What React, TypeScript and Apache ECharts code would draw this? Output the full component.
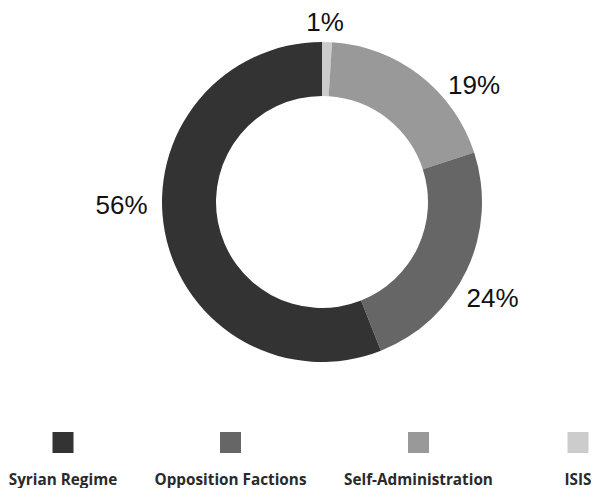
import React, { useEffect, useRef } from "react";
import * as echarts from "echarts";

// Data (clockwise from 12 o'clock)
const sliceNames = ["ISIS", "Self-Administration", "Opposition Factions", "Syrian Regime"];
const sliceValues = [1, 19, 24, 56];
const sliceColors = ["#cccccc", "#999999", "#666666", "#333333"];

// Legend order
const legendNames = ["Syrian Regime", "Opposition Factions", "Self-Administration", "ISIS"];

// Layout (not data)
const CX = 322;
const CY = 202;
const LABEL_OFFSETS: [number, number][] = [
  [3, -180],
  [152, -117.5],
  [170.5, 95.5],
  [-200.5, 3],
];
const LEGEND_CENTERS = [63, 230.5, 418.5, 578];
const LEGEND_FONT = "'Open Sans', 'Noto Sans', sans-serif";
const LEGEND_FONT_SIZE = 15.3;

function measure(text: string): number {
  const c = document.createElement("canvas").getContext("2d");
  if (!c) return text.length * 8;
  c.font = `bold ${LEGEND_FONT_SIZE}px ${LEGEND_FONT}`;
  return c.measureText(text).width;
}

export default function App() {
  const ref = useRef<HTMLDivElement>(null);

  useEffect(() => {
    if (!ref.current) return;
    const chart = echarts.init(ref.current, undefined, { renderer: "svg" });

    const colorOf = (name: string) => sliceColors[sliceNames.indexOf(name)];

    const legends = legendNames.map((name, i) => {
      const w = Math.max(21, measure(name));
      const rich: any = {
        label: {
          fontFamily: LEGEND_FONT,
          fontSize: LEGEND_FONT_SIZE,
          fontWeight: "bold",
          color: "#2a2a2a",
          lineHeight: 52,
          align: "center",
        },
      };
      rich["box" + i] = {
        width: 21,
        height: 21,
        backgroundColor: colorOf(name),
        align: "center",
      };
      return {
        data: [name],
        left: LEGEND_CENTERS[i] - 5 - w / 2,
        top: 432,
        padding: 0,
        orient: "horizontal",
        itemWidth: 0,
        itemHeight: 0,
        selectedMode: false,
        formatter: (n: string) => `{box${i}|}\n{label|${n}}`,
        textStyle: { rich },
      };
    });

    chart.setOption({
      animation: false,
      backgroundColor: "#ffffff",
      legend: legends,
      series: [
        {
          type: "pie",
          center: [CX, CY],
          radius: [106, 160],
          startAngle: 90,
          clockwise: true,
          avoidLabelOverlap: false,
          silent: true,
          itemStyle: { borderWidth: 0 },
          label: {
            show: true,
            position: "outside",
            formatter: (p: any) => `${p.value}%`,
            fontFamily: "'Liberation Sans', Arial, Helvetica, sans-serif",
            fontSize: 26,
            color: "#111111",
          },
          labelLine: { show: false },
          labelLayout: (params: any) => {
            const off = LABEL_OFFSETS[params.dataIndex];
            return {
              x: CX + off[0],
              y: CY + off[1],
              align: "center",
              verticalAlign: "middle",
            };
          },
          emphasis: { disabled: true },
          data: sliceNames.map((name, i) => ({
            name,
            value: sliceValues[i],
            itemStyle: { color: sliceColors[i] },
          })),
        },
      ],
    });

    return () => chart.dispose();
  }, []);

  return (
    <div
      ref={ref}
      style={{ position: "absolute", left: 0, top: 0, width: 592, height: 488 }}
    />
  );
}
